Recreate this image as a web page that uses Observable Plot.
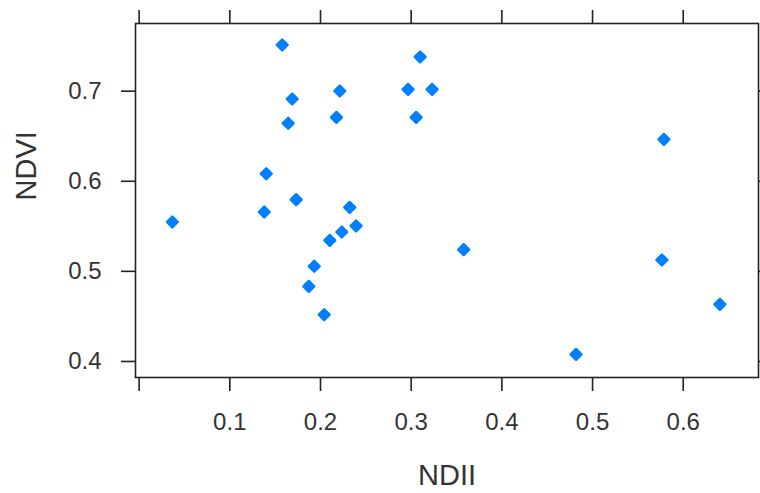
<!DOCTYPE html>
<html>
<head>
<meta charset="utf-8">
<script src="https://cdn.jsdelivr.net/npm/d3@7"></script>
<script src="https://cdn.jsdelivr.net/npm/@observablehq/plot@0.6"></script>
<style>
  html, body { margin: 0; padding: 0; background: #fff; }
</style>
</head>
<body>
<div id="chart"></div>
<script>
const ndii = [0.0366, 0.1578, 0.1688, 0.1644, 0.1402, 0.1380, 0.1732, 0.2176, 0.2213, 0.2966,
              0.3099, 0.3231, 0.3055, 0.2322, 0.2393, 0.2235, 0.2103, 0.1931, 0.1871, 0.2041,
              0.3579, 0.5787, 0.5765, 0.6404, 0.4818];
const ndvi = [0.5548, 0.7513, 0.6913, 0.6643, 0.6084, 0.5659, 0.5796, 0.6709, 0.7002, 0.7020,
              0.7380, 0.7020, 0.6709, 0.5710, 0.5504, 0.5437, 0.5344, 0.5056, 0.4833, 0.4519,
              0.5241, 0.6465, 0.5127, 0.4634, 0.4079];
const xTicks = [0, 0.1, 0.2, 0.3, 0.4, 0.5, 0.6];
const xTickLabels = ["", "0.1", "0.2", "0.3", "0.4", "0.5", "0.6"];
const yTicks = [0.4, 0.5, 0.6, 0.7];
const yTickLabels = ["0.4", "0.5", "0.6", "0.7"];
const xLabel = "NDII";
const yLabel = "NDVI";

const data = ndii.map((x, i) => ({x, y: ndvi[i]}));
const font = "'Liberation Sans', Arial, Helvetica, sans-serif";
const ink = "#222";
const textInk = "#333";

const chart = Plot.plot({
  width: 760,
  height: 493,
  marginLeft: 135,
  marginRight: 2,
  marginTop: 23,
  marginBottom: 116,
  style: {fontFamily: font, background: "#fff", overflow: "hidden"},
  x: {domain: [-0.004, 0.683]},
  y: {domain: [0.3822, 0.7751]},
  marks: [
    Plot.axisX({anchor: "bottom", ticks: xTicks, tickSize: 14, tickPadding: 21,
      tickFormat: (d) => xTickLabels[xTicks.indexOf(d)], fontSize: 24, stroke: ink, strokeWidth: 1.6, fill: textInk, label: null}),
    Plot.axisX({anchor: "top", ticks: xTicks, tickSize: 14, tickFormat: () => "", stroke: ink, strokeWidth: 1.6, label: null}),
    Plot.axisY({anchor: "left", ticks: yTicks, tickSize: 14, tickPadding: 20,
      tickFormat: d => yTickLabels[yTicks.indexOf(d)], fontSize: 24, stroke: ink, strokeWidth: 1.6, fill: textInk, label: null}),
    Plot.axisY({anchor: "right", ticks: yTicks, tickSize: 14, tickFormat: () => "", stroke: ink, strokeWidth: 1.6, label: null}),
    Plot.frame({stroke: ink, strokeWidth: 1.6}),
    Plot.dot(data, {x: "x", y: "y", r: 4.9, symbol: "diamond2", fill: "#0080ff", stroke: "#0080ff",
      strokeWidth: 2.4, strokeLinejoin: "round"}),
    Plot.text([xLabel], {frameAnchor: "bottom", dy: 98, lineAnchor: "middle", fontSize: 29, fill: textInk}),
    Plot.text([yLabel], {frameAnchor: "left", dx: -109, rotate: -90, lineAnchor: "middle", fontSize: 29, fill: textInk})
  ]
});
document.getElementById("chart").appendChild(chart);
</script>
</body>
</html>
